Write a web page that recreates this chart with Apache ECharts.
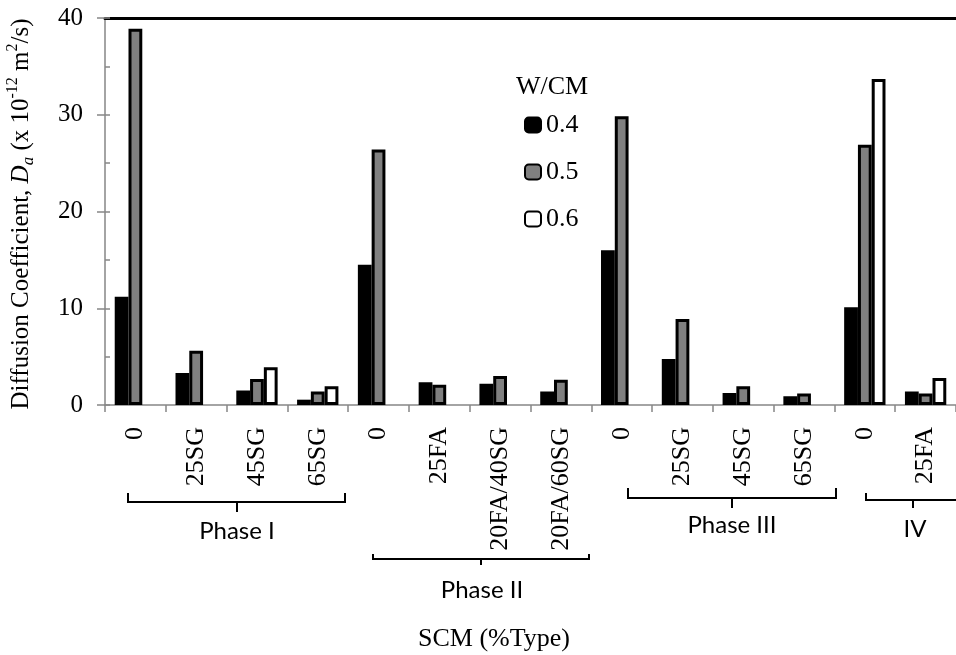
<!DOCTYPE html>
<html>
<head>
<meta charset="utf-8">
<script src="https://cdn.jsdelivr.net/npm/echarts@6/dist/echarts.min.js"></script>
<style>
html,body{margin:0;padding:0;background:#fff;}
#chart{width:956px;height:655px;}
</style>
</head>
<body>
<div id="chart"></div>
<script>
const categories = ['0','25SG','45SG','65SG','0','25FA','20FA/40SG','20FA/60SG','0','25SG','45SG','65SG','0','25FA'];
const seriesNames = ['0.4','0.5','0.6'];
const wcm04 = [11.2, 3.3, 1.5, 0.55, 14.5, 2.35, 2.2, 1.4, 16.0, 4.75, 1.25, 0.9, 10.1, 1.4];
const wcm05 = [38.9, 5.6, 2.7, 1.4, 26.4, 2.1, 3.0, 2.6, 29.85, 8.9, 1.95, 1.2, 26.9, 1.2];
const wcm06 = [null, null, 3.9, 1.95, null, null, null, null, null, null, null, null, 33.7, 2.8];
const yTicks = [0, 10, 20, 30, 40];
const phaseLabels = ['Phase I', 'Phase II', 'Phase III', 'IV'];

const serif = 'Liberation Serif';
const sans = 'Lato';
const chart = echarts.init(document.getElementById('chart'));

const fills = ['#000000', '#808080', '#ffffff'];
const values = [wcm04, wcm05, wcm06];

const bracketStyle = {stroke: '#000', lineWidth: 2, fill: null};
const brackets = [
  {pts: [[128,493],[128,502],[345,502],[345,493]], tick: [237,502,512], label: [237,531]},
  {pts: [[373,554],[373,559],[589,559],[589,554]], tick: [481,559,565], label: [482,590]},
  {pts: [[628,488],[628,498],[836,498],[836,488]], tick: [732,498,508], label: [732,525]},
  {pts: [[866,493],[866,500],[960,500]], tick: [913,500,508], label: [915,529]}
];
const graphics = [];
brackets.forEach((b, i) => {
  graphics.push({type: 'polyline', shape: {points: b.pts}, style: bracketStyle, silent: true});
  graphics.push({type: 'line', shape: {x1: b.tick[0], y1: b.tick[1], x2: b.tick[0], y2: b.tick[2]}, style: bracketStyle, silent: true});
  graphics.push({type: 'text', x: b.label[0], y: b.label[1], style: {text: phaseLabels[i], font: '24px ' + sans, fill: '#000', align: 'center', verticalAlign: 'middle'}, silent: true});
});
graphics.push({type: 'text', x: 494, y: 639, style: {text: 'SCM (%Type)', font: '26px ' + serif, fill: '#000', align: 'center', verticalAlign: 'middle'}, silent: true});
graphics.push({type: 'text', x: 552, y: 87, style: {text: 'W/CM', font: '26px ' + serif, fill: '#000', align: 'center', verticalAlign: 'middle'}, silent: true});
graphics.push({
  type: 'text', x: 21, y: 214, rotation: Math.PI / 2, silent: true,
  style: {
    text: '{n|Diffusion Coefficient, }{i|D}{sub|a}{n| (x 10}{sup|-12}{n| m}{sup|2}{n|/s)}',
    align: 'center', verticalAlign: 'middle',
    rich: {
      n: {fontFamily: serif, fontSize: 25, lineHeight: 32, color: '#000'},
      i: {fontFamily: serif, fontSize: 25, fontStyle: 'italic', lineHeight: 32, color: '#000'},
      sub: {fontFamily: serif, fontSize: 17, fontStyle: 'italic', verticalAlign: 'bottom', lineHeight: 17, color: '#000'},
      sup: {fontFamily: serif, fontSize: 16, verticalAlign: 'top', lineHeight: 16, color: '#000'}
    }
  }
});

const option = {
  animation: false,
  backgroundColor: '#fff',
  grid: {left: 105, top: 18, width: 861, bottom: 250, containLabel: false},
  legend: {
    data: seriesNames, orient: 'vertical', left: 524, top: 112, padding: 0,
    itemWidth: 16, itemHeight: 15, itemGap: 21, icon: 'roundRect',
    textStyle: {fontFamily: serif, fontSize: 26, lineHeight: 26, color: '#000'}
  },
  xAxis: [{
    type: 'category', data: categories, position: 'bottom',
    axisLine: {onZero: false, lineStyle: {color: '#868686', width: 1.5}},
    axisTick: {show: true, length: 7, lineStyle: {color: '#868686', width: 1.5}},
    axisLabel: {interval: 0, rotate: 90, margin: 22, fontFamily: serif, fontSize: 26, color: '#000'}
  }, {
    type: 'category', data: categories, position: 'top',
    axisLine: {onZero: false, lineStyle: {color: '#000', width: 3}},
    axisTick: {show: false}, axisLabel: {show: false}
  }],
  yAxis: [{
    type: 'value', min: yTicks[0], max: yTicks[yTicks.length - 1], interval: 10,
    axisLine: {show: true, onZero: false, lineStyle: {color: '#868686', width: 1.5}},
    axisTick: {show: true, length: 8, lineStyle: {color: '#868686', width: 1.5}},
    axisLabel: {margin: 22, fontFamily: serif, fontSize: 25, color: '#000'},
    splitLine: {show: false}
  }, {
    type: 'value', min: yTicks[0], max: yTicks[yTicks.length - 1], interval: 5, position: 'left',
    axisLine: {show: false},
    axisTick: {show: true, inside: true, length: 5, lineStyle: {color: '#868686', width: 1.5}},
    axisLabel: {show: false}, splitLine: {show: false}
  }],
  graphic: graphics,
  series: seriesNames.map((name, k) => ({
    name: name, type: 'bar', xAxisIndex: 0, yAxisIndex: 0,
    data: values[k],
    barGap: '0%', barCategoryGap: '32%',
    itemStyle: {color: fills[k], borderColor: '#000', borderWidth: 3}
  }))
};
chart.setOption(option);
</script>
</body>
</html>
